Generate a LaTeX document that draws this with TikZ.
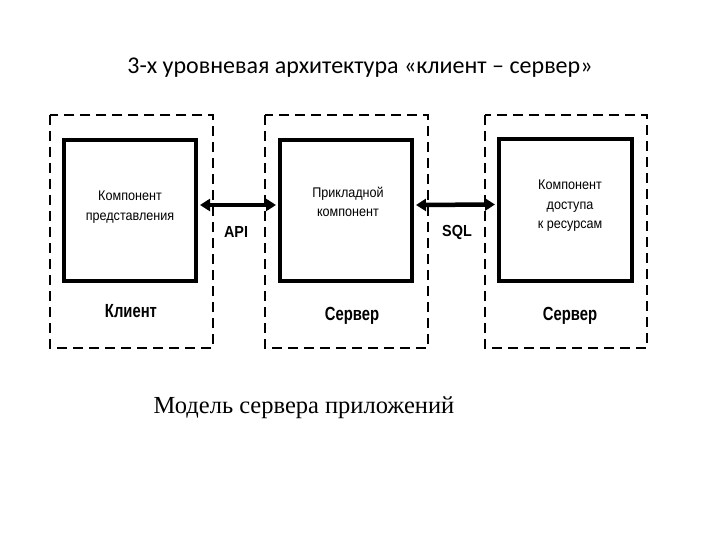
\documentclass[tikz,border=0pt]{standalone}
\usepackage{fontspec}
\setmainfont{Liberation Serif}
\newfontfamily\titlefont{Carlito}
\newfontfamily\boxfont[FakeStretch=0.9]{Liberation Sans}
\newfontfamily\lblfont[FakeStretch=0.78]{Liberation Sans}
\usetikzlibrary{arrows.meta}
\begin{document}
\begin{tikzpicture}[x=1pt,y=-1pt,
  outerbox/.style={draw=black,line width=2.5pt,dash pattern=on 10pt off 6pt},
  innerbox/.style={draw=black,line width=4pt},
  inner/.style={font=\boxfont\fontsize{14}{19.5}\selectfont,align=center,inner sep=0pt},
  lbl/.style={font=\lblfont\bfseries\fontsize{19}{20}\selectfont,inner sep=0pt},
  conn/.style={line width=4.5pt,{Triangle[length=10pt,width=12pt]}-{Triangle[length=10pt,width=12pt]}}
]
\useasboundingbox (0,0) rectangle (720,540);
\fill[white] (0,0) rectangle (720,540);
% outer dashed boxes
\draw[outerbox] (50,115) rectangle (213,348);
\draw[outerbox] (265,115) rectangle (428,348);
\draw[outerbox] (485,115) rectangle (647,348);
% inner boxes
\node[innerbox,minimum width=132pt,minimum height=141pt,inner sep=0pt] (b1) at (130,210.5) {};
\node[innerbox,minimum width=132pt,minimum height=141pt,inner sep=0pt] (b2) at (346,210.5) {};
\node[innerbox,minimum width=133pt,minimum height=142pt,inner sep=0pt] (b3) at (565.5,210) {};
% inner texts
\node[inner] (t1) at (130,207) {Компонент\\представления};
\node[inner] (t2) at (348,202) {Прикладной\\компонент};
\node[inner] (t3) at (570,206) {Компонент\\доступа\\к ресурсам};
% labels
\node[lbl] (l1) at (131,311) {Клиент};
\node[lbl] (l2) at (352,316) {Сервер};
\node[lbl] (l3) at (570,316) {Сервер};
\node[lbl,font=\boxfont\bfseries\fontsize{16}{18}\selectfont] (api) at (236,232) {API};
\node[lbl,font=\boxfont\bfseries\fontsize{16}{18}\selectfont] (sql) at (457,232) {SQL};
% connectors
\coordinate (a1) at ([yshift=5.5pt]b1.east);
\coordinate (a2) at ([yshift=5.5pt]b2.west);
\coordinate (a3) at ([yshift=5.5pt]b2.east);
\coordinate (a4) at ([yshift=5.5pt]b3.west);
\draw[conn] ([xshift=2pt]a1) -- ([xshift=-2pt]a2);
\draw[conn] ([xshift=2pt]a3) -- ([xshift=-2pt]a4);
% titles
\node[font=\titlefont\fontsize{24}{28}\selectfont] (title) at (360,68) {3-х уровневая архитектура «клиент – сервер»};
\node[font=\fontsize{24.5}{28}\selectfont] (caption) at (304,408) {Модель сервера приложений};
\end{tikzpicture}
\end{document}
